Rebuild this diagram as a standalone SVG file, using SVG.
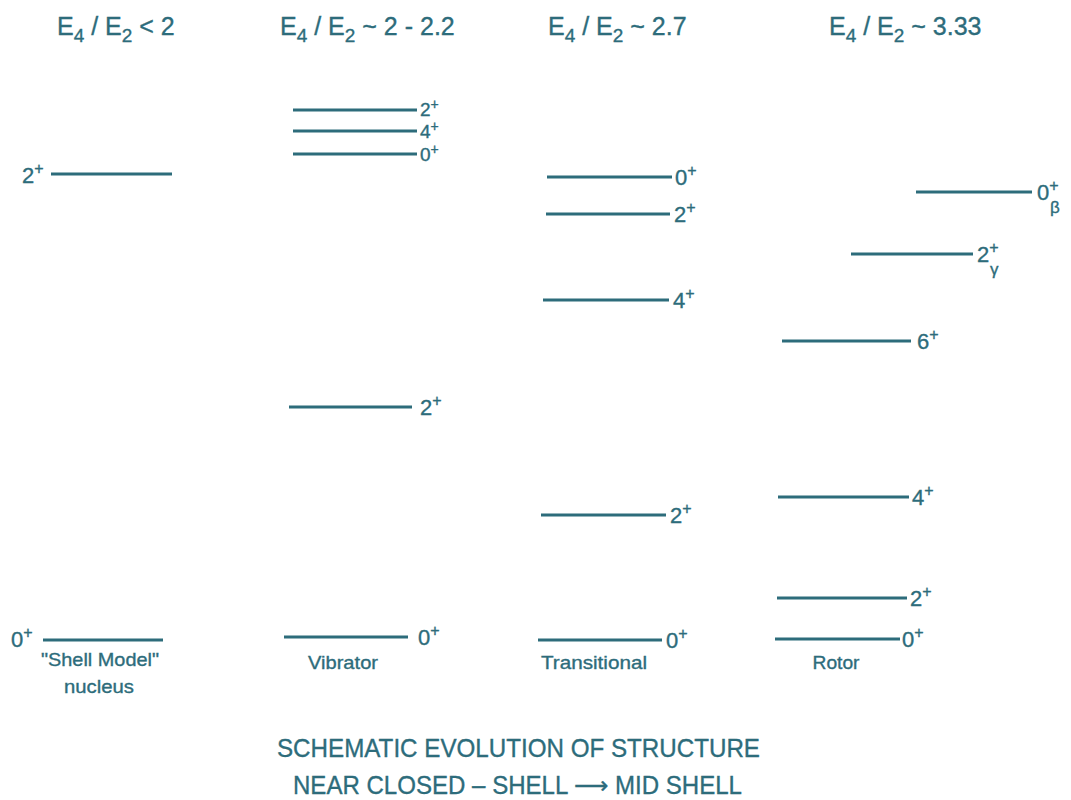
<svg xmlns="http://www.w3.org/2000/svg" width="1071" height="800" viewBox="0 0 1071 800">
<style>
text{font-family:"Liberation Sans",Arial,sans-serif;fill:#2d6c7b;stroke:#2d6c7b;stroke-width:0.35}
.h{font-size:25px}
.lv{font-size:22px}
.sm{font-size:19px}
.sup{font-size:16px}
.sup2{font-size:14px}
.sub{font-size:19px}
.gr{font-size:17px}
.cap{font-size:19px}
.b{font-size:26px}
line{stroke:#2d6c7b;stroke-width:3}
</style>
<rect width="1071" height="800" fill="#fff"/>
<g id="headers">
<text class="h" x="57" y="35">E<tspan class="sub" dy="7">4</tspan><tspan dy="-7"> / E</tspan><tspan class="sub" dy="7">2</tspan><tspan dy="-7"> &lt; 2</tspan></text>
<text class="h" x="280" y="35">E<tspan class="sub" dy="7">4</tspan><tspan dy="-7"> / E</tspan><tspan class="sub" dy="7">2</tspan><tspan dy="-7"> ~ 2 - 2.2</tspan></text>
<text class="h" x="548" y="35">E<tspan class="sub" dy="7">4</tspan><tspan dy="-7"> / E</tspan><tspan class="sub" dy="7">2</tspan><tspan dy="-7"> ~ 2.7</tspan></text>
<text class="h" x="829" y="35">E<tspan class="sub" dy="7">4</tspan><tspan dy="-7"> / E</tspan><tspan class="sub" dy="7">2</tspan><tspan dy="-7"> ~ 3.33</tspan></text>
</g>
<g id="col1">
<g id="c1-2"><line x1="51" y1="174" x2="172" y2="174"/><text class="lv" x="22" y="183">2<tspan class="sup" dy="-9">+</tspan></text></g>
<g id="c1-0"><line x1="43" y1="640" x2="163" y2="640"/><text class="lv" x="11" y="647">0<tspan class="sup" dy="-9">+</tspan></text></g>
<text class="cap" x="100" y="666" text-anchor="middle" textLength="118" lengthAdjust="spacingAndGlyphs">"Shell Model"</text>
<text class="cap" x="99" y="693" text-anchor="middle" textLength="70" lengthAdjust="spacingAndGlyphs">nucleus</text>
</g>
<g id="col2">
<g id="c2-2a"><line x1="293" y1="110" x2="417" y2="110"/><text class="sm" x="420" y="116">2<tspan class="sup2" dy="-7">+</tspan></text></g>
<g id="c2-4"><line x1="293" y1="131" x2="417" y2="131"/><text class="sm" x="420" y="138">4<tspan class="sup2" dy="-7">+</tspan></text></g>
<g id="c2-0a"><line x1="293" y1="154" x2="417" y2="154"/><text class="sm" x="420" y="161">0<tspan class="sup2" dy="-7">+</tspan></text></g>
<g id="c2-2b"><line x1="289" y1="407" x2="412" y2="407"/><text class="lv" x="420" y="415">2<tspan class="sup" dy="-9">+</tspan></text></g>
<g id="c2-0b"><line x1="284" y1="637" x2="408" y2="637"/><text class="lv" x="418" y="645">0<tspan class="sup" dy="-9">+</tspan></text></g>
<text class="cap" x="343" y="669" text-anchor="middle" textLength="70" lengthAdjust="spacingAndGlyphs">Vibrator</text>
</g>
<g id="col3">
<g id="c3-0a"><line x1="547" y1="177" x2="672" y2="177"/><text class="lv" x="675" y="185">0<tspan class="sup" dy="-9">+</tspan></text></g>
<g id="c3-2a"><line x1="546" y1="214" x2="670" y2="214"/><text class="lv" x="674" y="222">2<tspan class="sup" dy="-9">+</tspan></text></g>
<g id="c3-4"><line x1="543" y1="300" x2="669" y2="300"/><text class="lv" x="673" y="308">4<tspan class="sup" dy="-9">+</tspan></text></g>
<g id="c3-2b"><line x1="541" y1="515" x2="666" y2="515"/><text class="lv" x="670" y="523">2<tspan class="sup" dy="-9">+</tspan></text></g>
<g id="c3-0b"><line x1="538" y1="640" x2="662" y2="640"/><text class="lv" x="666" y="648">0<tspan class="sup" dy="-9">+</tspan></text></g>
<text class="cap" x="541" y="669" textLength="106" lengthAdjust="spacingAndGlyphs">Transitional</text>
</g>
<g id="col4">
<g id="c4-0b"><line x1="916" y1="192" x2="1032" y2="192"/><text class="lv" x="1037" y="200">0<tspan class="sup" dy="-9">+</tspan></text><text class="gr" x="1050" y="213">β</text></g>
<g id="c4-2g"><line x1="851" y1="254" x2="973" y2="254"/><text class="lv" x="977" y="262">2<tspan class="sup" dy="-9">+</tspan></text><text class="gr" x="990" y="275">γ</text></g>
<g id="c4-6"><line x1="782" y1="341" x2="911" y2="341"/><text class="lv" x="917" y="349">6<tspan class="sup" dy="-9">+</tspan></text></g>
<g id="c4-4"><line x1="778" y1="497" x2="909" y2="497"/><text class="lv" x="912" y="505">4<tspan class="sup" dy="-9">+</tspan></text></g>
<g id="c4-2"><line x1="777" y1="598" x2="907" y2="598"/><text class="lv" x="910" y="606">2<tspan class="sup" dy="-9">+</tspan></text></g>
<g id="c4-0"><line x1="775" y1="639" x2="900" y2="639"/><text class="lv" x="902" y="647">0<tspan class="sup" dy="-9">+</tspan></text></g>
<text class="cap" x="836" y="669" text-anchor="middle" textLength="47" lengthAdjust="spacingAndGlyphs">Rotor</text>
</g>
<g id="caption">
<text class="b" x="277" y="757" textLength="483" lengthAdjust="spacingAndGlyphs">SCHEMATIC EVOLUTION OF STRUCTURE</text>
<text class="b" x="293" y="794" textLength="449" lengthAdjust="spacingAndGlyphs">NEAR CLOSED – SHELL ⟶ MID SHELL</text>
</g>
</svg>
